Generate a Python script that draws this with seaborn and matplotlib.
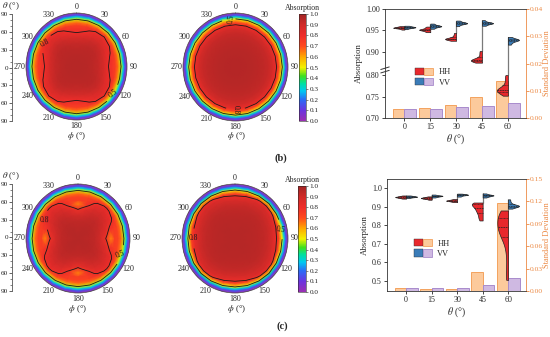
import numpy as np
import pandas as pd
import matplotlib
matplotlib.use("Agg")
import matplotlib.pyplot as plt
import seaborn as sns
from matplotlib.colors import LinearSegmentedColormap, Normalize
from matplotlib.cm import ScalarMappable
from matplotlib.patches import Patch
from matplotlib.legend_handler import HandlerTuple
from matplotlib.ticker import MultipleLocator, FormatStrFormatter

sns.set_theme(style="ticks")
plt.rcParams['font.family'] = ['Liberation Serif', 'DejaVu Serif']
plt.rcParams['mathtext.fontset'] = 'stix'

W, H = 550, 337

# ---------------- data ----------------
theta_cats = ["0", "15", "30", "45", "60"]

# standard deviation of absorption over phi (bars)
b_std_hh = [0.0032, 0.0036, 0.0048, 0.0076, 0.0136]
b_std_vv = [0.0032, 0.0034, 0.0039, 0.0044, 0.0054]
c_std_hh = [0.0045, 0.0030, 0.0030, 0.0260, 0.1180]
c_std_vv = [0.0045, 0.0045, 0.0045, 0.0076, 0.0174]

# absorption samples over phi for each theta (violins)
b_hh = {
    "0": [0.952, 0.954, 0.955, 0.956, 0.956, 0.957, 0.957, 0.958, 0.959, 0.960],
    "15": [0.946, 0.948, 0.950, 0.951, 0.952, 0.952, 0.953, 0.955, 0.957, 0.959],
    "30": [0.926, 0.928, 0.929, 0.930, 0.931, 0.931, 0.932, 0.935, 0.939, 0.944],
    "45": [0.875, 0.877, 0.879, 0.880, 0.881, 0.882, 0.884, 0.888, 0.895, 0.902],
    "60": [0.752, 0.757, 0.760, 0.763, 0.765, 0.766, 0.768, 0.772, 0.780, 0.790, 0.800],
}
b_vv = {
    "0": [0.953, 0.955, 0.956, 0.957, 0.957, 0.958, 0.958, 0.959, 0.960, 0.961],
    "15": [0.954, 0.956, 0.958, 0.959, 0.960, 0.960, 0.961, 0.962, 0.964, 0.966],
    "30": [0.960, 0.963, 0.965, 0.966, 0.967, 0.967, 0.968, 0.969, 0.971, 0.973],
    "45": [0.961, 0.963, 0.965, 0.966, 0.967, 0.967, 0.968, 0.969, 0.971, 0.974],
    "60": [0.917, 0.921, 0.924, 0.926, 0.927, 0.928, 0.929, 0.930, 0.932, 0.935],
}
c_hh = {
    "0": [0.944, 0.947, 0.949, 0.951, 0.952, 0.953, 0.954, 0.956, 0.958, 0.961],
    "15": [0.938, 0.942, 0.944, 0.946, 0.947, 0.948, 0.949, 0.951, 0.953, 0.956],
    "30": [0.925, 0.928, 0.930, 0.932, 0.933, 0.934, 0.935, 0.937, 0.939, 0.942],
    "45": [0.826, 0.840, 0.855, 0.868, 0.878, 0.886, 0.895, 0.903, 0.910, 0.915, 0.918, 0.921, 0.923],
    "60": [0.505, 0.560, 0.640, 0.700, 0.735, 0.750, 0.760, 0.775, 0.790, 0.800, 0.810,
           0.825, 0.840, 0.855, 0.865, 0.875, 0.880],
}
c_vv = {
    "0": [0.947, 0.950, 0.952, 0.953, 0.954, 0.955, 0.956, 0.957, 0.959, 0.961],
    "15": [0.950, 0.953, 0.955, 0.957, 0.958, 0.959, 0.960, 0.961, 0.963, 0.966],
    "30": [0.955, 0.958, 0.961, 0.963, 0.964, 0.965, 0.966, 0.967, 0.969, 0.971],
    "45": [0.950, 0.954, 0.957, 0.959, 0.961, 0.962, 0.963, 0.965, 0.968, 0.972],
    "60": [0.890, 0.895, 0.899, 0.902, 0.904, 0.905, 0.906, 0.908, 0.912, 0.918, 0.928, 0.940],
}

# polar maps: absorption vs theta (radius) along phi = 0, 15, 30, 45 deg (4-fold symmetric)
theta_nodes = [0, 10, 20, 30, 40, 50, 57, 64, 70, 75, 80, 84, 87, 90]
map_b_hh = [
    [0.957, 0.955, 0.950, 0.940, 0.920, 0.870, 0.800, 0.770, 0.730, 0.650, 0.480, 0.300, 0.150, 0.0],
    [0.957, 0.955, 0.951, 0.942, 0.925, 0.880, 0.820, 0.785, 0.745, 0.655, 0.480, 0.300, 0.150, 0.0],
    [0.957, 0.956, 0.952, 0.946, 0.935, 0.905, 0.860, 0.825, 0.785, 0.670, 0.485, 0.300, 0.150, 0.0],
    [0.957, 0.956, 0.953, 0.948, 0.940, 0.915, 0.880, 0.845, 0.800, 0.680, 0.490, 0.300, 0.150, 0.0],
]
map_b_vv = [
    [0.960, 0.958, 0.955, 0.950, 0.942, 0.930, 0.915, 0.880, 0.810, 0.700, 0.510, 0.310, 0.150, 0.0],
    [0.960, 0.958, 0.955, 0.950, 0.942, 0.930, 0.915, 0.880, 0.810, 0.700, 0.510, 0.310, 0.150, 0.0],
    [0.960, 0.958, 0.955, 0.950, 0.942, 0.930, 0.915, 0.880, 0.810, 0.700, 0.510, 0.310, 0.150, 0.0],
    [0.960, 0.958, 0.955, 0.950, 0.942, 0.930, 0.915, 0.880, 0.810, 0.700, 0.510, 0.310, 0.150, 0.0],
]
map_c_hh = [
    [0.955, 0.952, 0.945, 0.930, 0.880, 0.780, 0.640, 0.740, 0.720, 0.660, 0.480, 0.300, 0.150, 0.0],
    [0.955, 0.953, 0.947, 0.935, 0.900, 0.840, 0.780, 0.750, 0.730, 0.660, 0.480, 0.300, 0.150, 0.0],
    [0.955, 0.954, 0.950, 0.940, 0.925, 0.895, 0.860, 0.820, 0.780, 0.680, 0.485, 0.300, 0.150, 0.0],
    [0.955, 0.954, 0.951, 0.945, 0.935, 0.910, 0.885, 0.850, 0.810, 0.700, 0.490, 0.300, 0.150, 0.0],
]
map_c_vv = [
    [0.955, 0.955, 0.953, 0.950, 0.945, 0.930, 0.910, 0.870, 0.810, 0.720, 0.500, 0.300, 0.150, 0.0],
    [0.955, 0.955, 0.953, 0.950, 0.945, 0.932, 0.915, 0.880, 0.830, 0.740, 0.520, 0.300, 0.150, 0.0],
    [0.955, 0.955, 0.954, 0.951, 0.947, 0.935, 0.920, 0.895, 0.860, 0.790, 0.560, 0.320, 0.150, 0.0],
    [0.955, 0.955, 0.954, 0.952, 0.948, 0.938, 0.925, 0.905, 0.880, 0.820, 0.600, 0.330, 0.150, 0.0],
]
phi_nodes = np.arange(0, 361, 15)

cmap = LinearSegmentedColormap.from_list("abs", [
    (0.0, '#9b2fb2'), (0.1, '#6a35e0'), (0.2, '#2a6cf6'), (0.28, '#00c8f0'),
    (0.35, '#00e0a0'), (0.42, '#40e020'), (0.5, '#f2f200'), (0.6, '#ffa800'),
    (0.7, '#ff4a1e'), (0.8, '#ee2d2a'), (0.9, '#d02a28'), (1.0, '#a32424')])

HH_V, VV_V = '#e8282c', '#3a7cb8'
HH_B, VV_B = '#fcca9c', '#cfb9e2'
HH_E, VV_E = '#f3a25e', '#a98bcc'
ORANGE = '#ec8a45'

fig = plt.figure(figsize=(W / 100, H / 100), dpi=100)


def rect(x0, y0, x1, y1):
    return [x0 / W, 1 - y1 / H, (x1 - x0) / W, (y1 - y0) / H]


def build_grid(profiles):
    prof = np.array(profiles)
    f = phi_nodes % 90
    f = np.where(f > 45, 90 - f, f)
    idx = (f // 15).astype(int)
    return prof[idx].T


def draw_polar(box, profiles, labels, phi_lab):
    ax = fig.add_axes(rect(*box), projection='polar')
    P, T = np.meshgrid(np.deg2rad(phi_nodes), theta_nodes)
    Z = build_grid(profiles)
    ax.pcolormesh(P, T, Z, cmap=cmap, vmin=0, vmax=1, shading='gouraud')
    cs = ax.contour(P, T, Z, levels=[0.5, 0.8], colors='k', linewidths=0.6)
    try:
        ax.clabel(cs, fmt='%.1f', fontsize=5.5, inline=True,
                  manual=[(np.deg2rad(a), r) for a, r in labels])
    except Exception:
        pass
    ax.set_theta_zero_location('N')
    ax.set_theta_direction(-1)
    ax.set_ylim(0, 90)
    ax.set_aspect('auto')
    ax.set_xticks(np.deg2rad(np.arange(0, 360, 30)))
    ax.set_xticklabels([str(v) for v in range(0, 360, 30)])
    ax.set_yticks([30, 60])
    ax.set_yticklabels([])
    ax.grid(True, color='#600000', alpha=0.18, lw=0.4)
    ax.tick_params(axis='x', labelsize=5.8, pad=-2.5, length=0)
    ax.spines['polar'].set_linewidth(0.5)
    ax.spines['polar'].set_color('#444444')
    fig.text(phi_lab[0] / W, 1 - phi_lab[1] / H, r'$\phi$ (°)', fontsize=6.6,
             ha='center', va='center')
    return ax


def draw_theta_axis(x, y0, y1, title_y):
    a = fig.add_axes(rect(x, y0, x + 1, y1))
    a.set_ylim(-90, 90)
    ticks = np.arange(-90, 91, 30)
    a.set_yticks(ticks)
    a.set_yticklabels([str(abs(v)) for v in ticks])
    a.yaxis.set_minor_locator(MultipleLocator(10))
    for s in ['top', 'right', 'bottom']:
        a.spines[s].set_visible(False)
    a.set_xticks([])
    a.patch.set_visible(False)
    a.spines['left'].set_color('#555555')
    a.spines['left'].set_linewidth(0.6)
    a.tick_params(axis='y', which='major', length=2, width=0.5, labelsize=5.2, pad=0.8)
    a.tick_params(axis='y', which='minor', length=1.2, width=0.4)
    fig.text(2 / W, 1 - title_y / H, r'$\theta$ (°)', fontsize=6.5, va='center')


def draw_cbar(box, title_y):
    cax = fig.add_axes(rect(*box))
    cb = fig.colorbar(ScalarMappable(norm=Normalize(0, 1), cmap=cmap), cax=cax)
    cb.set_ticks(np.arange(0, 1.01, 0.1))
    cb.ax.yaxis.set_major_formatter(FormatStrFormatter('%.1f'))
    cb.ax.tick_params(labelsize=5.2, length=1.5, width=0.4, pad=1)
    cb.outline.set_linewidth(0.4)
    fig.text((box[0] + box[2]) / 2 / W, 1 - title_y / H, 'Absorption', fontsize=5.6,
             ha='center', va='center')


def draw_bars(box, hh, vv, std_hh, std_vv, ylim, yticks, yfmt, slim, sticks, leg_anchor,
              brk=None):
    ax = fig.add_axes(rect(*box))
    tw = ax.twinx()
    ax.set_zorder(2)
    tw.set_zorder(1)
    ax.patch.set_visible(False)

    if brk is not None:
        b1, b2 = brk
        gap = b2 - b1

        def fwd(y):
            y = np.asarray(y, float)
            return np.where(y <= b1, y, np.where(y >= b2, y - gap, b1))

        def inv(v):
            v = np.asarray(v, float)
            return np.where(v <= b1, v, v + gap)
        ax.set_yscale('function', functions=(fwd, inv))

    rows = []
    for pol, d in (("HH", hh), ("VV", vv)):
        for t in theta_cats:
            for v in d[t]:
                rows.append((t, pol, v))
    df = pd.DataFrame(rows, columns=['theta', 'pol', 'abs'])

    sdf = pd.DataFrame({'theta': theta_cats * 2, 'std': std_hh + std_vv,
                        'pol': ['HH'] * len(theta_cats) + ['VV'] * len(theta_cats)})
    sns.barplot(data=sdf, x='theta', y='std', hue='pol', order=theta_cats,
                hue_order=['HH', 'VV'], palette={'HH': HH_B, 'VV': VV_B}, saturation=1,
                width=0.9, errorbar=None, ax=tw, legend=False, linewidth=0.7)
    for cont, col in zip(tw.containers, [HH_E, VV_E]):
        for p in cont:
            p.set_edgecolor(col)

    # connecting line between the HH and VV distributions
    xs = np.arange(len(theta_cats))
    ax.vlines(xs, [max(hh[t]) for t in theta_cats], [max(vv[t]) for t in theta_cats],
              color='#7a7a7a', lw=0.9, zorder=1)
    sns.violinplot(data=df, x='theta', y='abs', hue='pol', order=theta_cats,
                   hue_order=['HH', 'VV'], split=True, inner='quart',
                   palette={'HH': HH_V, 'VV': VV_V}, saturation=1, linewidth=0.5,
                   linecolor='#222222', cut=0, density_norm='width', width=0.85,
                   bw_adjust=0.7, ax=ax, legend=False)

    ax.set_xlim(-0.75, 4.7)
    ax.set_ylim(*ylim)
    ax.set_yticks(yticks)
    ax.yaxis.set_major_formatter(FormatStrFormatter(yfmt))
    ax.yaxis.set_minor_locator(plt.NullLocator())
    ax.set_xticks(xs)
    ax.set_xticklabels(theta_cats)
    tw.set_ylim(*slim)
    tw.set_yticks(sticks)
    tw.yaxis.set_major_formatter(FormatStrFormatter('%.2f'))

    ax.set_ylabel('Absorption', fontsize=6.3, labelpad=2)
    ax.set_xlabel(r'$\theta$ (°)', fontsize=7, labelpad=1)
    tw.set_ylabel('Standard Deviation', fontsize=6.0, color=ORANGE)
    tw.yaxis.set_label_coords((543.0 - box[0]) / (box[2] - box[0]), 0.5)
    ax.tick_params(axis='both', labelsize=5.8, direction='out', length=2.2, width=0.6, pad=1.5)
    tw.tick_params(axis='y', labelsize=5.4, direction='out', length=2.0, width=0.6, pad=1.0,
                   colors=ORANGE)
    ax.spines['right'].set_visible(False)
    for s in ['left', 'top', 'bottom']:
        tw.spines[s].set_visible(False)
    tw.spines['right'].set_color(ORANGE)
    for s in ['left', 'top', 'bottom']:
        ax.spines[s].set_linewidth(0.6)
        ax.spines[s].set_color('#333333')
    tw.spines['right'].set_linewidth(0.6)

    if brk is not None:
        tr = ax.get_yaxis_transform()
        b1, b2 = brk
        ax.plot([-0.03, 0.03], [b1 - 0.007, b1 - 0.001], transform=tr, color='#333333',
                lw=0.7, clip_on=False, zorder=5)
        ax.plot([-0.03, 0.03], [b2 + 0.001, b2 + 0.007], transform=tr, color='#333333',
                lw=0.7, clip_on=False, zorder=5)

    h_hh = (Patch(fc=HH_V, ec='#333333', lw=0.3), Patch(fc=HH_B, ec=HH_E, lw=0.6))
    h_vv = (Patch(fc=VV_V, ec='#333333', lw=0.3), Patch(fc=VV_B, ec=VV_E, lw=0.6))
    ax.legend([h_hh, h_vv], ['HH', 'VV'], handler_map={tuple: HandlerTuple(ndivide=None, pad=0)},
              loc='center left', bbox_to_anchor=leg_anchor, frameon=False, fontsize=6,
              handlelength=2.2, handleheight=1.0, labelspacing=0.2, handletextpad=0.6,
              borderaxespad=0)
    return ax


# ---------------- row (b) ----------------
draw_theta_axis(12, 14, 121, 6)
draw_polar((26, 13, 127, 120), map_b_hh, [(305, 60), (125, 79)], (77, 136))
draw_polar((183, 13, 288, 121), map_b_vv, [(355, 80), (180, 72)], (237, 136))
draw_cbar((299, 14, 306, 121), 8)
draw_bars((385, 9, 526, 118), b_hh, b_vv, b_std_hh, b_std_vv, (0.70, 1.00),
          [0.70, 0.75, 0.80, 0.90, 0.95, 1.00], '%.2f', (0, 0.04),
          [0.00, 0.01, 0.02, 0.03, 0.04], (0.19, 0.375), brk=(0.812, 0.858))
fig.text(281 / W, 1 - 158 / H, '(b)', fontsize=7.5, fontweight='bold', ha='center', va='center')

# ---------------- row (c) ----------------
draw_theta_axis(12, 184, 291, 176)
draw_polar((26, 184, 130, 293), map_c_hh, [(298, 65), (110, 79)], (78, 309))
draw_polar((182, 184, 288, 293), map_c_vv, [(270, 71), (79, 80)], (237, 309))
draw_cbar((298, 186, 306, 292), 180)
draw_bars((387, 179, 526, 291), c_hh, c_vv, c_std_hh, c_std_vv, (0.445, 1.05),
          [0.5, 0.6, 0.7, 0.8, 0.9, 1.0], '%.1f', (0, 0.15),
          [0.00, 0.03, 0.06, 0.09, 0.12, 0.15], (0.17, 0.38))
fig.text(282 / W, 1 - 326 / H, '(c)', fontsize=7.5, fontweight='bold', ha='center', va='center')

fig.savefig('out.png', dpi=100)
